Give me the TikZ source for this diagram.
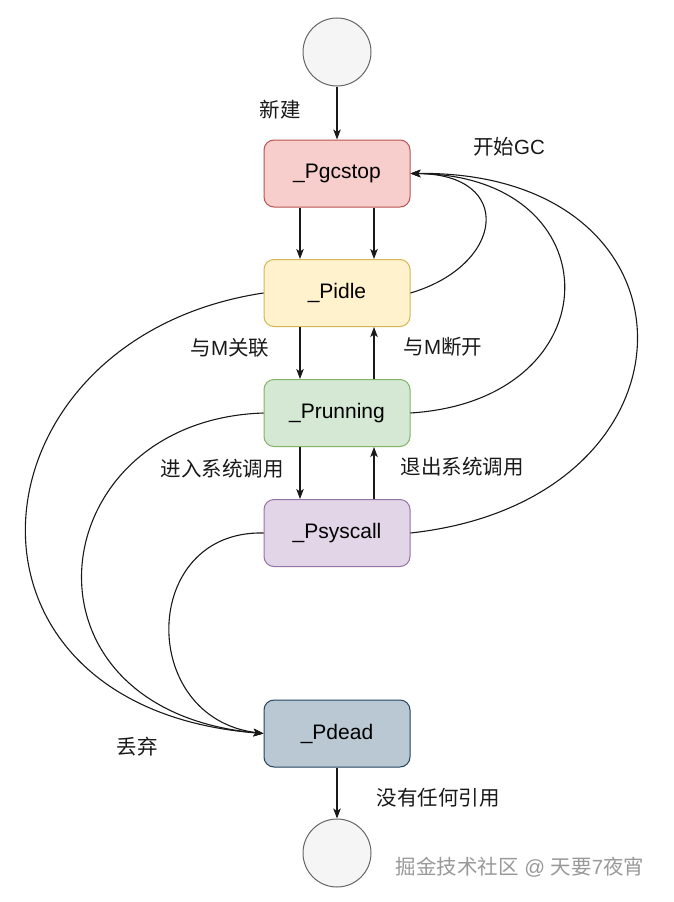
\documentclass[tikz,border=0pt]{standalone}
\usepackage{fontspec}
\setmainfont{Liberation Sans}
\newfontfamily\cjk{Noto Sans CJK SC}
\usetikzlibrary{arrows.meta}
\definecolor{gcfill}{HTML}{F8CECC}\definecolor{gcline}{HTML}{B85450}
\definecolor{idfill}{HTML}{FFF2CC}\definecolor{idline}{HTML}{D6B656}
\definecolor{rufill}{HTML}{D5E8D4}\definecolor{ruline}{HTML}{82B366}
\definecolor{syfill}{HTML}{E1D5E7}\definecolor{syline}{HTML}{9673A6}
\definecolor{defill}{HTML}{BAC8D3}\definecolor{deline}{HTML}{23445D}
\definecolor{cifill}{HTML}{F5F5F5}\definecolor{ciline}{HTML}{666666}
\definecolor{wmark}{HTML}{999999}
\begin{document}
\begin{tikzpicture}[x=1pt,y=-1pt,
  state/.style={draw, rounded corners=10pt, minimum width=146pt, minimum height=67pt,
    line width=1pt, inner sep=0pt, font=\fontsize{21}{25}\selectfont},
  endpt/.style={circle, draw=ciline, fill=cifill, minimum size=68pt, line width=1pt, inner sep=0pt},
  conn/.style={line width=1.1pt, draw=black!90, -{Stealth[length=10pt,width=7.5pt,inset=2.5pt]}},
  lbl/.style={font=\fontsize{20.5}{24}\selectfont, text=black!90, inner sep=0pt}]
\useasboundingbox (0,0) rectangle (674,902);
\fill[white] (0,0) rectangle (674,902);

\node[endpt] (start) at (337,52) {};
\node[state, fill=gcfill, draw=gcline] (gc) at (337,173.5) {\_Pgcstop};
\node[state, fill=idfill, draw=idline] (idle) at (337,293) {\_Pidle};
\node[state, fill=rufill, draw=ruline] (run) at (337,413) {\_Prunning};
\node[state, fill=syfill, draw=syline] (sys) at (337,533) {\_Psyscall};
\node[state, fill=defill, draw=deline] (dead) at (337,733.5) {\_Pdead};
\node[endpt] (stop) at (337,853) {};

% vertical connectors
\draw[conn] (start) -- (gc);
\draw[conn] ([xshift=-37pt]gc.south) -- ([xshift=-37pt]idle.north);
\draw[conn] ([xshift=37pt]gc.south) -- ([xshift=37pt]idle.north);
\draw[conn] ([xshift=-37pt]idle.south) -- ([xshift=-37pt]run.north);
\draw[conn] ([xshift=37pt]run.north) -- ([xshift=37pt]idle.south);
\draw[conn] ([xshift=-37pt]run.south) -- ([xshift=-37pt]sys.north);
\draw[conn] ([xshift=37pt]sys.north) -- ([xshift=37pt]run.south);
\draw[conn] (dead) -- (stop);

% curves back to _Pgcstop
\draw[conn] (idle.east) .. controls (505,265) and (515,174) .. (gc.east);
\draw[conn] (run.east) .. controls (615,400) and (615,175) .. (gc.east);
\draw[conn] (sys.east) .. controls (712,500) and (712,170) .. (gc.east);

% curves to _Pdead
\draw[conn] (idle.west) .. controls (-35,338) and (-70,707) .. (dead.west);
\draw[conn] (run.west) .. controls (40,420) and (5,710) .. (dead.west);
\draw[conn] (sys.west) .. controls (140,530) and (137,718) .. (dead.west);

% labels
\node[lbl] (l1) at (280,110) {\cjk 新建};
\node[lbl] (l2) at (509,147) {{\cjk 开始}GC};
\node[lbl] (l3) at (230,348) {{\cjk 与}M{\cjk 关联}};
\node[lbl] (l4) at (443,347) {{\cjk 与}M{\cjk 断开}};
\node[lbl] (l5) at (222,469) {\cjk 进入系统调用};
\node[lbl] (l6) at (462,467) {\cjk 退出系统调用};
\node[lbl] (l7) at (137,747) {\cjk 丢弃};
\node[lbl] (l8) at (438,798) {\cjk 没有任何引用};
\node[lbl, text=wmark] (wm) at (520,867) {{\cjk 掘金技术社区} @ {\cjk 天要}7{\cjk 夜宵}};
\end{tikzpicture}
\end{document}
